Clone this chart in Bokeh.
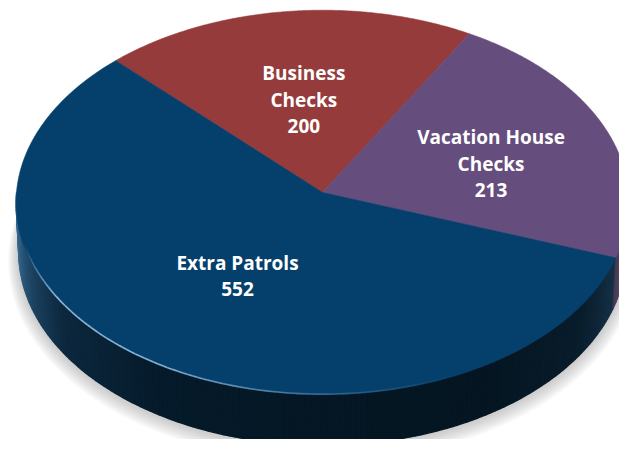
import numpy as np
from bokeh.plotting import figure
from bokeh.models import Range1d
from bokeh.embed import file_html
from bokeh.resources import INLINE
from bokeh.core.properties import value

# ---- data ----
categories = ["Business Checks", "Vacation House Checks", "Extra Patrols"]
label_lines = [["Business", "Checks"], ["Vacation House", "Checks"], ["Extra Patrols"]]
counts = [200, 213, 552]

# ---- style ----
colors = ["#953b3b", "#654d7e", "#053f6b"]
START_ANGLE = 134.5          # degrees, slices run clockwise
LABEL_R = [0.50, 0.575, 0.505]
LABEL_DA = [0.0, -5.0, 0.0]  # label angle nudges (degrees)
LINE_SPACING = 26.5

# perspective camera for the 3D disc
PHI = np.radians(38.8)
DIST = 15.0
FOC = 306.0 * DIST
CX, CY = 322.0, 192.0
THICK = 0.21
CPHI, SPHI = np.cos(PHI), np.sin(PHI)


def proj(X, Y, Z):
    X = np.asarray(X, float); Y = np.asarray(Y, float); Z = np.asarray(Z, float)
    depth = Y * CPHI + DIST - Z * SPHI
    up = Y * SPHI + Z * CPHI
    return CX + X * FOC / depth, CY - up * FOC / depth


def rim(a_deg, r=1.0, z=0.0):
    a = np.radians(a_deg)
    return proj(r * np.cos(a), r * np.sin(a), np.full_like(a, z, dtype=float))


total = float(sum(counts))
bounds = [START_ANGLE]
for v in counts:
    bounds.append(bounds[-1] - v / total * 360.0)


def slice_of(a):
    a = ((a - bounds[-1]) % 360.0) + bounds[-1]
    for i in range(len(counts)):
        if bounds[i + 1] <= a <= bounds[i]:
            return i
    return len(counts) - 1


def hex2rgb(h):
    h = h.lstrip("#")
    return np.array([int(h[i:i + 2], 16) for i in (0, 2, 4)], float)


GRAY = np.array([200.0, 210.0, 222.0])
st_a = [180, 188, 200, 215, 240, 270, 300, 325, 340, 350, 360]
st_k = [0.85, 0.80, 0.66, 0.48, 0.36, 0.30, 0.28, 0.33, 0.45, 0.55, 0.62]
st_w = [0.30, 0.26, 0.14, 0.05, 0.02, 0.02, 0.02, 0.04, 0.10, 0.20, 0.30]


def shade(base, a):
    k = np.interp(a, st_a, st_k)
    w = np.interp(a, st_a, st_w)
    c = np.clip(hex2rgb(base) * k + GRAY * w, 0, 255).astype(int)
    return "#%02x%02x%02x" % tuple(c)


p = figure(width=619, height=439, x_range=Range1d(0, 619), y_range=Range1d(439, 0),
           output_backend="svg", toolbar_location=None, min_border=0,
           x_axis_type=None, y_axis_type=None)
p.outline_line_color = None
p.background_fill_color = "white"
p.border_fill_color = "white"

# ---- soft shadow ----
full = np.linspace(0, 360, 361)
for i in range(8, 0, -1):
    r = 1.0 + 0.0045 * i
    sx, sy = rim(full, r=r, z=-THICK - 0.004 * i)
    p.patch(list(sx), list(sy + 1.0), fill_color="#808080", fill_alpha=0.055, line_color=None)

# ---- side wall ----
brk = list(np.linspace(180, 360, 181))
for b in bounds:
    bb = b % 360.0
    if 180 < bb < 360:
        brk.append(bb)
brk = sorted(set(brk))
xs, ys, fc = [], [], []
for a0, a1 in zip(brk[:-1], brk[1:]):
    seg = np.array([a0, a1])
    tx, ty = rim(seg, z=0.0)
    bx, by = rim(seg, z=-THICK)
    xs.append([tx[0], tx[1], bx[1], bx[0]])
    ys.append([ty[0], ty[1], by[1], by[0]])
    mid = 0.5 * (a0 + a1)
    fc.append(shade(colors[slice_of(mid)], mid))
p.patches(xs, ys, fill_color=fc, line_color=fc, line_width=1.3)

# ---- top face ----
for i in range(len(counts)):
    arc = np.linspace(bounds[i], bounds[i + 1], 200)
    ax, ay = rim(arc)
    px = [CX] + list(ax)
    py = [CY] + list(ay)
    p.patch(px, py, fill_color=colors[i], line_color=colors[i], line_width=0.6)

# ---- rim highlight ----
ha = np.linspace(195, 295, 101)
hx, hy = rim(ha, r=0.997)
hxs = [[hx[j], hx[j + 1]] for j in range(len(ha) - 1)]
hys = [[hy[j], hy[j + 1]] for j in range(len(ha) - 1)]
halpha = list(np.interp(0.5 * (ha[:-1] + ha[1:]), [195, 212, 240, 272, 295], [0.0, 0.8, 0.75, 0.25, 0.0]))
p.multi_line(hxs, hys, line_color="#b4d4ee", line_alpha=halpha, line_width=1.6)

# ---- labels ----
tx_, ty_, tt_ = [], [], []
for i in range(len(counts)):
    mid = 0.5 * (bounds[i] + bounds[i + 1]) + LABEL_DA[i]
    lx, ly = rim(np.array([mid]), r=LABEL_R[i])
    lines = label_lines[i] + [str(counts[i])]
    n = len(lines)
    for j, t in enumerate(lines):
        tx_.append(float(lx[0]))
        ty_.append(float(ly[0]) + (j - (n - 1) / 2.0) * LINE_SPACING)
        tt_.append(t)
p.text(x=tx_, y=ty_, text=tt_, text_align="center", text_baseline="middle",
       text_font=value("Open Sans"), text_font_style="bold", text_font_size="19px",
       text_color="white")

open("out.html", "w").write(file_html(p, INLINE))
